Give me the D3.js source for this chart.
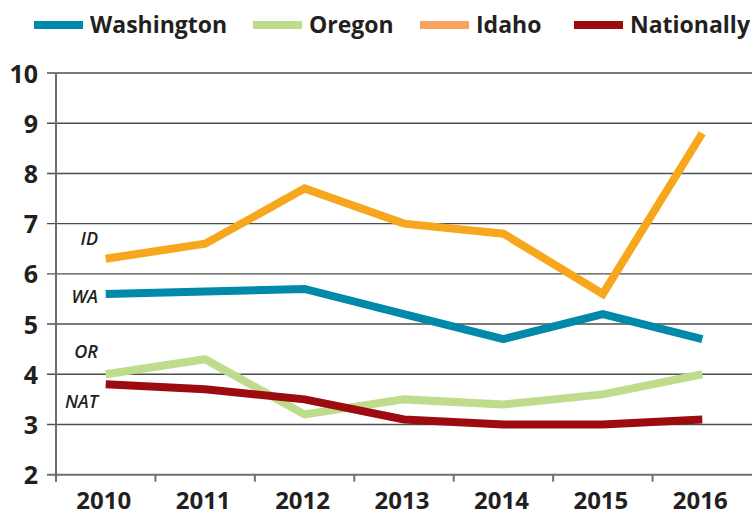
<!DOCTYPE html>
<html lang="en">
<head>
    <meta charset="UTF-8">
    <title>Rates by state</title>
    <script src="https://d3js.org/d3.v7.min.js"></script>
    <style>
        body { margin: 0; background: #fff; }
        text { font-family: "Open Sans", sans-serif; fill: #231f20; }
        .tick-label { font-weight: 700; }
        .state-label { font-style: italic; font-weight: 600; font-size: 18px; }
        .series { fill: none; stroke-width: 8px; stroke-linejoin: miter; stroke-linecap: butt; }
    </style>
</head>
<body>
    <svg width="752" height="518"></svg>
    <script>
        // data
        const years = ['2010', '2011', '2012', '2013', '2014', '2015', '2016'];
        const washington = [5.6, 5.65, 5.7, 5.2, 4.7, 5.2, 4.7];
        const oregon = [4.0, 4.3, 3.2, 3.5, 3.4, 3.6, 4.0];
        const idaho = [6.3, 6.6, 7.7, 7.0, 6.8, 5.6, 8.8];
        const nationally = [3.8, 3.7, 3.5, 3.1, 3.0, 3.0, 3.1];
        const yTicks = [2, 3, 4, 5, 6, 7, 8, 9, 10];

        const series = [
            { name: 'Washington', short: 'WA', values: washington, color: '#0089a9', key: '#0089a9' },
            { name: 'Oregon', short: 'OR', values: oregon, color: '#bedc8b', key: '#bedc8b' },
            { name: 'Idaho', short: 'ID', values: idaho, color: '#f6a71e', key: '#f7a35e' },
            { name: 'Nationally', short: 'NAT', values: nationally, color: '#9d0a10', key: '#9d0a10' }
        ];

        const width = 752, height = 518;
        const svg = d3.select('svg');

        const x = d3.scaleBand().domain(years).range([56, 752]).padding(0);
        const y = d3.scaleLinear().domain([2, 10]).range([474.7, 73]);

        // gridlines
        svg.append('g')
            .selectAll('line')
            .data(yTicks)
            .join('line')
            .attr('x1', 47).attr('x2', width)
            .attr('y1', d => y(d)).attr('y2', d => y(d))
            .attr('stroke', d => d === 2 ? '#6d6e70' : '#4d4d4f')
            .attr('stroke-width', d => d === 2 ? 2 : 1.4);

        // y axis labels
        const yAxis = svg.append('g')
            .attr('transform', 'translate(56,0)')
            .call(d3.axisLeft(y).tickValues(yTicks).tickSize(0).tickPadding(18));
        yAxis.select('.domain').remove();
        yAxis.selectAll('text')
            .attr('class', 'tick-label')
            .style('font-size', '25px')
            .attr('dy', '0.36em');

        // y axis line
        svg.append('line')
            .attr('x1', 56).attr('x2', 56)
            .attr('y1', y(10)).attr('y2', y(2) + 7)
            .attr('stroke', '#6d6e70').attr('stroke-width', 2);

        // x ticks at band boundaries
        svg.append('g')
            .selectAll('line')
            .data(years)
            .join('line')
            .attr('x1', d => x(d)).attr('x2', d => x(d))
            .attr('y1', y(2)).attr('y2', y(2) + 7)
            .attr('stroke', '#6d6e70').attr('stroke-width', 2);

        const xAxis = svg.append('g')
            .attr('transform', `translate(-2,${y(2)})`)
            .call(d3.axisBottom(x).tickSize(0).tickPadding(17));
        xAxis.select('.domain').remove();
        xAxis.selectAll('text')
            .attr('class', 'tick-label')
            .style('font-size', '24px')
            .attr('dy', '0.71em');

        // lines
        const line = d3.line()
            .x((d, i) => x(years[i]) + x.bandwidth() / 2)
            .y(d => y(d));

        const drawOrder = [series[1], series[3], series[0], series[2]];
        svg.append('g')
            .selectAll('path')
            .data(drawOrder)
            .join('path')
            .attr('class', 'series')
            .attr('stroke', d => d.color)
            .attr('d', d => line(d.values));

        // state labels on the left
        const labelY = { ID: 245, WA: 303, OR: 358, NAT: 408 };
        svg.append('g')
            .selectAll('text')
            .data(series)
            .join('text')
            .attr('class', 'state-label')
            .attr('x', 98)
            .attr('y', d => labelY[d.short])
            .attr('text-anchor', 'end')
            .text(d => d.short);

        // legend
        const legendX = [34, 253, 420, 574];
        const legend = svg.append('g')
            .selectAll('g')
            .data(series)
            .join('g')
            .attr('transform', (d, i) => `translate(${legendX[i]},0)`);
        legend.append('rect')
            .attr('x', 0).attr('y', 21)
            .attr('width', 49).attr('height', 8)
            .attr('fill', d => d.key);
        legend.append('text')
            .attr('x', 56).attr('y', 33)
            .style('font-size', '23px')
            .style('font-weight', 700)
            .text(d => d.name);
    </script>
</body>
</html>
